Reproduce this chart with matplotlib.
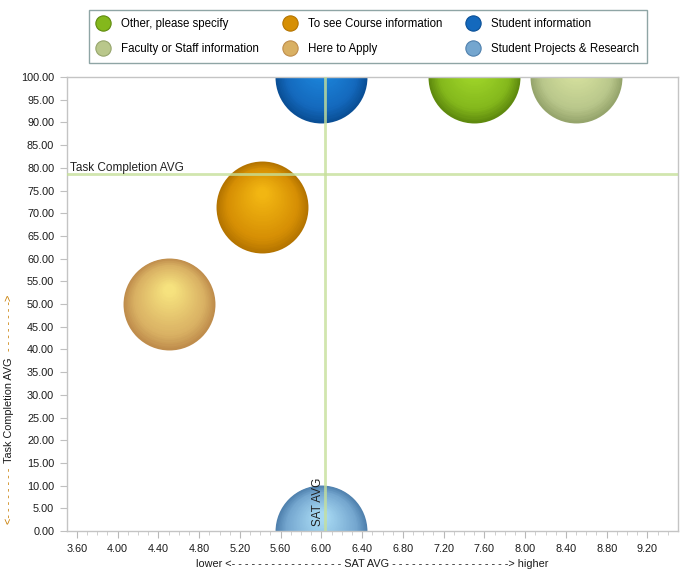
import numpy as np
import matplotlib.pyplot as plt
import matplotlib.transforms as mtransforms
from matplotlib.colors import to_rgb
from matplotlib.lines import Line2D

plt.rcParams['font.family'] = ['Liberation Sans', 'DejaVu Sans']
plt.rcParams['font.size'] = 7.8

# -------------------- data --------------------
names = ["Other, please specify", "Faculty or Staff information",
         "To see Course information", "Here to Apply",
         "Student information", "Student Projects & Research"]
sat_avg = [7.50, 8.50, 5.42, 4.50, 6.00, 6.00]
task_avg = [100.0, 100.0, 71.3, 50.0, 100.0, 0.0]
bubble_size = [1.0, 1.0, 1.0, 1.0, 1.0, 1.0]

sat_mean = 6.04
task_mean = 78.7

x_ticks = [3.6 + 0.4 * i for i in range(15)]
y_ticks = [5 * i for i in range(21)]

# colours: edge / body / highlight
dark_cols = ["#5f8a0e", "#96a56c", "#b47400", "#bf8d4c", "#0a4f96", "#4f80ad"]
body_cols = ["#84b81c", "#b9c78b", "#d68f04", "#d9b063", "#1469bd", "#74a6cf"]
light_cols = ["#a6dc2c", "#dce6a2", "#f2b612", "#f6e27e", "#1d8ae0", "#a6d8f2"]

fig = plt.figure(figsize=(6.86, 5.71), dpi=100)
ax = fig.add_axes([66.7 / 686, 40 / 571, (678 - 66.7) / 686, (531 - 77) / 571])
ax.set_xlim(3.5, 9.5)
ax.set_ylim(0, 100)


def mix(c1, c2, t):
    a, b = np.array(to_rgb(c1)), np.array(to_rgb(c2))
    return tuple(a + (b - a) * t)


# -------------------- bubbles (layered to look like spheres) --------------------
diam = 66.2  # points
n_layers = 28
for x, y, s, dc, bc, lc in zip(sat_avg, task_avg, bubble_size, dark_cols, body_cols, light_cols):
    d = diam * s
    for k in range(n_layers):
        t = k / (n_layers - 1)
        size = d * (1 - 0.88 * t)
        if t < 0.25:
            col = mix(dc, bc, t / 0.25)
        else:
            col = mix(bc, lc, (t - 0.25) / 0.75)
        shift = mtransforms.ScaledTranslation(0, t * 0.16 * d / 72, fig.dpi_scale_trans)
        ax.plot([x], [y], 'o', markersize=size, color=col, markeredgewidth=0,
                transform=ax.transData + shift, zorder=2)

# -------------------- average lines --------------------
ax.axhline(task_mean, color="#c6e09a", lw=2, alpha=0.8, zorder=3)
ax.axvline(sat_mean, color="#c6e09a", lw=2, alpha=0.8, zorder=3)
ax.text(0.005, task_mean, "Task Completion AVG", fontsize=8.5, color="#222222",
        transform=mtransforms.blended_transform_factory(ax.transAxes, ax.transData),
        ha='left', va='bottom', zorder=4)
ax.text(sat_mean - 0.01, 1.2, "SAT AVG", rotation=90, fontsize=8.5, color="#222222",
        ha='right', va='bottom', zorder=4)

# -------------------- axes styling --------------------
for sp in ax.spines.values():
    sp.set_color("#c4c4c4")
    sp.set_linewidth(1)

ax.set_xticks(x_ticks)
ax.set_xticklabels([f"{v:.2f}" for v in x_ticks])
ax.set_xticks([3.6 + 0.1 * i for i in range(59)], minor=True)
ax.set_yticks(y_ticks)
ax.set_yticklabels([f"{v:.2f}" for v in y_ticks])
ax.tick_params(axis='x', which='major', length=5, color="#b8b8b8", pad=4, labelcolor="#1a1a1a")
ax.tick_params(axis='x', which='minor', length=3, color="#c8c8c8")
ax.tick_params(axis='y', which='major', length=5, color="#c0c0c0", pad=4, labelcolor="#1a1a1a")

ax.set_xlabel("lower <- - - - - - - - - - - - - - - - - SAT AVG - - - - - - - - - - - - - - - - - -> higher",
              fontsize=7.8, labelpad=4, color="#1a1a1a")

# y label: orange dashes, dark text
fig.text(9 / 686, 1 - 496 / 571, "<- - - - - - - -", rotation=90, color="#c87c00",
         ha='center', va='center', fontsize=7.8)
fig.text(9 / 686, 1 - 410 / 571, "Task Completion AVG", rotation=90, color="#1a1a1a",
         ha='center', va='center', fontsize=7.8)
fig.text(9 / 686, 1 - 323 / 571, "- - - - - - - ->", rotation=90, color="#c87c00",
         ha='center', va='center', fontsize=7.8)

# -------------------- legend --------------------
handles = [Line2D([], [], marker='o', ls='', markersize=11, markerfacecolor=bc,
                  markeredgecolor=dc, markeredgewidth=0.8)
           for bc, dc in zip(body_cols, dark_cols)]
leg = fig.legend(handles, names, ncol=3, loc='upper left',
                 bbox_to_anchor=(89 / 686, 1 - 10 / 571), borderaxespad=0,
                 fancybox=False, framealpha=1, edgecolor="#8fa5a5",
                 fontsize=8.3, handletextpad=1.05, labelspacing=1.15, borderpad=0.7,
                 handlelength=1.0, columnspacing=2.2)
leg.get_frame().set_linewidth(1)

fig.savefig("out.png", dpi=100, facecolor='white')
